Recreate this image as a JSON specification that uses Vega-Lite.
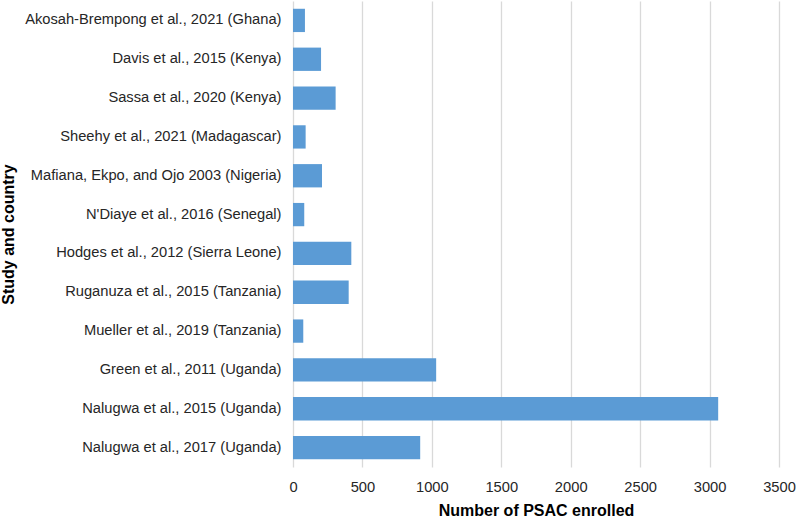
{
  "$schema": "https://vega.github.io/schema/vega-lite/v6.json",
  "autosize": {"type": "none"},
  "padding": {"left": 293, "top": 1, "right": 17, "bottom": 59},
  "width": 486,
  "height": 466,
  "background": "white",
  "config": {
    "view": {"stroke": null},
    "font": "Liberation Sans"
  },
  "data": {
    "values": [
      {"study": "Akosah-Brempong et al., 2021 (Ghana)", "n": 86},
      {"study": "Davis et al., 2015 (Kenya)", "n": 202},
      {"study": "Sassa et al., 2020 (Kenya)", "n": 307},
      {"study": "Sheehy et al., 2021 (Madagascar)", "n": 91},
      {"study": "Mafiana, Ekpo, and Ojo 2003 (Nigeria)", "n": 209},
      {"study": "N'Diaye et al., 2016 (Senegal)", "n": 81},
      {"study": "Hodges et al., 2012 (Sierra Leone)", "n": 420},
      {"study": "Ruganuza et al., 2015 (Tanzania)", "n": 401},
      {"study": "Mueller et al., 2019 (Tanzania)", "n": 74},
      {"study": "Green et al., 2011 (Uganda)", "n": 1031},
      {"study": "Nalugwa et al., 2015 (Uganda)", "n": 3062},
      {"study": "Nalugwa et al., 2017 (Uganda)", "n": 916}
    ]
  },
  "mark": {"type": "bar", "color": "#5B9BD5"},
  "encoding": {
    "y": {
      "field": "study",
      "type": "nominal",
      "sort": null,
      "scale": {"paddingInner": 0.4, "paddingOuter": 0.2},
      "axis": {
        "title": "Study and country",
        "titleFontSize": 16,
        "titleFontWeight": "bold",
        "titleColor": "#000000",
        "titleX": -277,
        "titleY": 233,
        "titleBaseline": "bottom",
        "titleAngle": 270,
        "labelFontSize": 14.7,
        "labelColor": "#262626",
        "labelPadding": 12,
        "ticks": false,
        "domain": false,
        "labelLimit": 400
      }
    },
    "x": {
      "field": "n",
      "type": "quantitative",
      "scale": {"domain": [0, 3500], "nice": false},
      "axis": {
        "title": "Number of PSAC enrolled",
        "titleFontSize": 16,
        "titleFontWeight": "bold",
        "titleColor": "#000000",
        "titlePadding": 9,
        "values": [0, 500, 1000, 1500, 2000, 2500, 3000, 3500],
        "format": "d",
        "labelFlush": false,
        "labelFontSize": 14.7,
        "labelColor": "#262626",
        "labelPadding": 12,
        "ticks": false,
        "domain": false,
        "grid": true,
        "gridColor": "#D9D9D9",
        "gridWidth": 1.3
      }
    }
  }
}
